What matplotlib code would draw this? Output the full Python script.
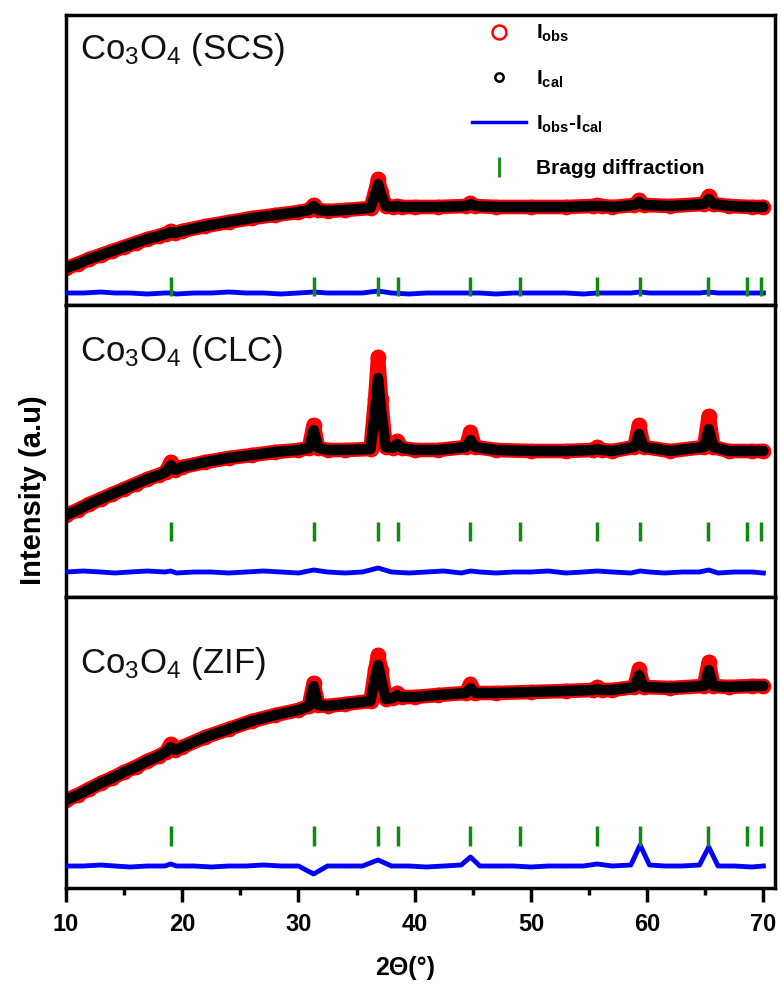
import matplotlib
matplotlib.use("Agg")
import matplotlib.pyplot as plt
from matplotlib.lines import Line2D

plt.rcParams['font.family'] = ['Liberation Sans', 'DejaVu Sans']
plt.rcParams['mathtext.default'] = 'regular'

# 2theta grid (shared by the three patterns)
two_theta = [10, 11, 12, 13, 14, 15, 16, 17, 18, 18.6, 19.0, 19.4,
             20, 22, 24, 26, 28, 30, 30.9, 31.3, 31.7, 32.5, 34,
             36.2, 36.6, 36.85, 37.1, 37.5, 38.1, 38.5, 38.9, 40, 42,
             44.4, 44.8, 45.2, 47, 50, 53, 55.3, 55.7, 56.1, 57,
             58.9, 59.3, 59.7, 62, 64.9, 65.3, 65.7, 67, 69, 70]

# intensities (arbitrary units, each panel on its own 0-290 scale)
obs_scs = [37, 41, 46, 50, 54, 58, 62, 66, 69, 71, 74, 72,
           74, 79, 83, 87, 90, 93, 95, 100, 95, 94, 95,
           97, 113, 126, 113, 99, 98, 99, 98, 98, 98,
           99, 102, 99, 98, 98, 98, 99, 100, 99, 98,
           100, 105, 100, 99, 101, 109, 101, 99, 98, 98]
cal_scs = [37, 41, 46, 50, 54, 58, 62, 66, 69, 71, 73, 72,
           74, 79, 83, 87, 90, 93, 95, 99, 95, 94, 95,
           97, 111, 121, 111, 99, 98, 99, 98, 98, 98,
           99, 101, 99, 98, 98, 98, 99, 99, 99, 98,
           100, 103, 100, 99, 101, 106, 101, 99, 98, 98]

obs_clc = [82, 87, 93, 98, 103, 108, 113, 118, 122, 125, 135, 127,
           130, 135, 139, 142, 145, 147, 149, 172, 149, 147, 147,
           148, 198, 240, 198, 150, 149, 156, 149, 147, 147,
           150, 165, 150, 147, 146, 146, 147, 150, 147, 146,
           150, 172, 150, 146, 150, 181, 150, 146, 146, 146]
cal_clc = [82, 87, 93, 98, 103, 108, 113, 118, 122, 125, 132, 127,
           130, 135, 139, 142, 145, 147, 149, 167, 149, 147, 147,
           148, 188, 219, 188, 150, 149, 153, 149, 147, 147,
           150, 157, 150, 147, 146, 146, 147, 148, 147, 146,
           150, 163, 150, 146, 150, 168, 150, 146, 146, 146]

obs_zif = [88, 93, 99, 105, 110, 116, 121, 127, 132, 136, 144, 138,
           141, 151, 159, 167, 173, 178, 182, 205, 183, 182, 184,
           187, 218, 233, 218, 189, 190, 195, 191, 191, 193,
           195, 204, 195, 195, 196, 197, 198, 201, 198, 198,
           201, 219, 201, 200, 202, 226, 202, 201, 202, 202]
cal_zif = [88, 93, 99, 105, 110, 116, 121, 127, 132, 136, 141, 138,
           141, 151, 159, 167, 173, 178, 182, 202, 183, 182, 184,
           187, 210, 223, 210, 189, 190, 193, 191, 191, 193,
           195, 200, 195, 195, 196, 197, 198, 199, 198, 198,
           201, 213, 201, 200, 202, 218, 202, 201, 202, 202]

# difference curves
diff_tt = [10, 11.5, 13, 14.2, 15.5, 17, 18.5, 19, 19.5, 21, 22.5, 24, 25.5,
           27, 28.5, 30, 31.3, 32.5, 34, 35.5, 36.85, 38, 39.5, 41, 42.5, 44,
           44.8, 45.6, 47, 48.5, 50, 51.5, 53, 54.5, 55.7, 57, 58.6, 59.4,
           60.2, 61.5, 63, 64.5, 65.3, 66.1, 67.5, 69, 70]
diff_scs = [12, 12, 13, 12, 12, 11, 12, 12, 11, 12, 12, 13, 12,
            12, 11, 12, 13, 12, 12, 12, 14, 12, 11, 12, 12, 12,
            12, 12, 11, 12, 12, 12, 12, 11, 12, 12, 12, 13,
            12, 12, 12, 12, 13, 12, 12, 12, 12]
diff_clc = [25, 26, 25, 24, 25, 26, 25, 26, 24, 25, 25, 24, 25,
            26, 25, 24, 27, 25, 24, 25, 29, 25, 24, 25, 26, 24,
            26, 25, 24, 25, 25, 26, 24, 25, 26, 25, 24, 26,
            25, 24, 25, 25, 27, 24, 25, 25, 24]
diff_zif = [22, 22, 23, 22, 21, 22, 22, 24, 22, 22, 21, 22, 22,
            23, 22, 22, 14, 22, 22, 22, 28, 22, 22, 21, 22, 23,
            31, 22, 22, 22, 21, 22, 22, 22, 24, 22, 23, 43,
            23, 22, 22, 23, 41, 22, 22, 21, 22]

bragg = [19.0, 31.3, 36.85, 38.55, 44.8, 49.1, 55.65, 59.35, 65.25, 68.6, 69.8]
bragg_span = [(9, 28), (56, 75), (42, 62)]

names = ['Co$_3$O$_4$ (SCS)', 'Co$_3$O$_4$ (CLC)', 'Co$_3$O$_4$ (ZIF)']
name_y = [0.88, 0.84, 0.77]
obs_all = [obs_scs, obs_clc, obs_zif]
cal_all = [cal_scs, cal_clc, cal_zif]
diff_all = [diff_scs, diff_clc, diff_zif]

fig = plt.figure(figsize=(7.81, 9.91), dpi=100)

W, H = 781.0, 991.0
panel_px = [(15, 305), (305, 597), (597, 888)]
axes = []
for k, (top, bot) in enumerate(panel_px):
    ax = fig.add_axes([66 / W, 1 - bot / H, 709 / W, (bot - top) / H])
    axes.append(ax)

    ax.plot(two_theta, obs_all[k], color='red', lw=10.5, solid_joinstyle='round',
            solid_capstyle='round', zorder=2)
    ax.plot(two_theta, obs_all[k], 'o', mfc='none', mec='red', ms=10, mew=1.3, zorder=2)
    ax.plot(two_theta, cal_all[k], color='black', lw=7.5, solid_joinstyle='round',
            solid_capstyle='round', zorder=3)
    ax.plot(diff_tt, diff_all[k], color='blue', lw=3.5, zorder=3)
    lo, hi = bragg_span[k]
    ax.vlines(bragg, lo, hi, color='#118a11', lw=2.5, zorder=4)

    ax.text(0.02, name_y[k], names[k], transform=ax.transAxes, fontsize=25,
            color='#111111', va='center', ha='left')

    ax.set_xlim(10, 71)
    ax.set_ylim(0, bot - top)
    ax.set_yticks([])
    for s in ax.spines.values():
        s.set_linewidth(2.5)
    if k < 2:
        ax.set_xticks([])
    else:
        ax.set_xticks(range(10, 71, 10))
        ax.set_xticks(range(15, 71, 10), minor=True)
        ax.tick_params(axis='x', which='major', direction='out', length=10,
                       width=2.5, labelsize=17, pad=8)
        ax.tick_params(axis='x', which='minor', direction='out', length=5, width=2.5)
        for lab in ax.get_xticklabels():
            lab.set_fontweight('bold')

# legend in the top panel
handles = [
    Line2D([], [], ls='none', marker='o', mfc='none', mec='red', ms=10, mew=1.8),
    Line2D([], [], ls='none', marker='o', mfc='white', mec='black', ms=6, mew=1.8),
    Line2D([], [], color='blue', lw=2.5),
    Line2D([], [], ls='none', marker='|', color='#118a11', ms=14, mew=2),
]
labels = ['I$_{obs}$', 'I$_{cal}$', 'I$_{obs}$-I$_{cal}$', 'Bragg diffraction']
leg = axes[0].legend(handles, labels, loc='upper left', bbox_to_anchor=(0.573, 0.972),
                     frameon=False, handlelength=2.6, handletextpad=0.45,
                     labelspacing=1.15, borderpad=0, borderaxespad=0,
                     prop={'weight': 'bold', 'size': 15})

fig.text(33 / W, 1 - 490 / H, 'Intensity (a.u)', rotation=90, fontsize=21,
         fontweight='bold', ha='center', va='center')
fig.text(405 / W, 1 - 968 / H, '2Θ(°)', fontsize=18, fontweight='bold',
         ha='center', va='center')

fig.savefig('out.png', dpi=100)
